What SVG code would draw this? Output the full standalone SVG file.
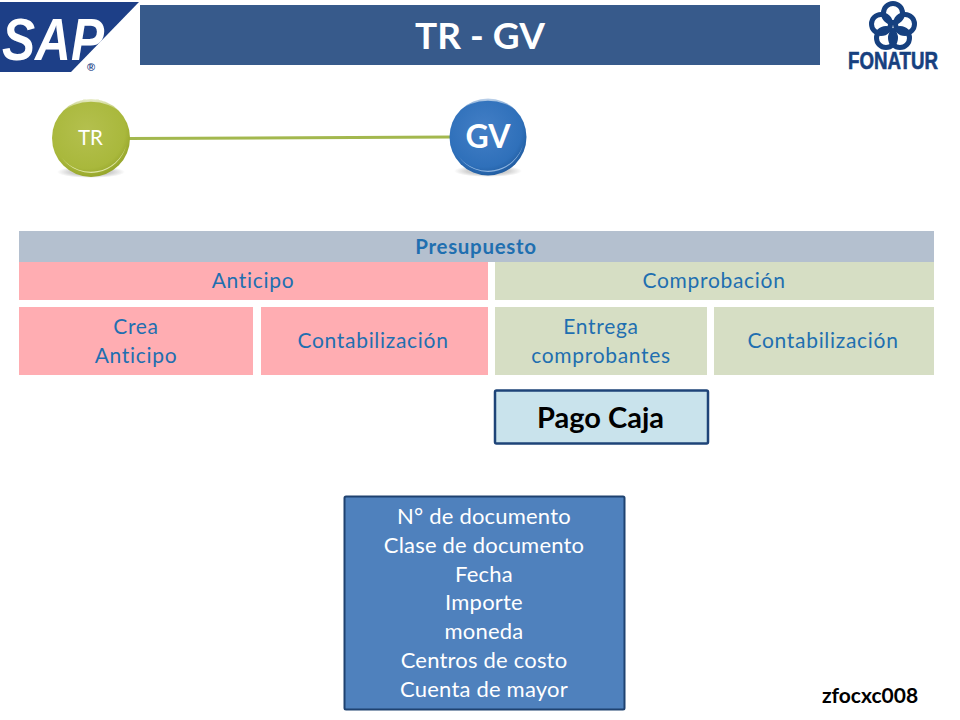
<svg xmlns="http://www.w3.org/2000/svg" width="960" height="720" viewBox="0 0 960 720">
<style>
text{font-family:Lato,"Open Sans","Liberation Sans",sans-serif;text-anchor:middle}
.lbl{font-size:21px;fill:#1f6fb0;letter-spacing:.7px}
.wh{font-size:22px;fill:#fff;letter-spacing:.2px}
.pink{fill:#ffadb2}.sage{fill:#d6dec4}
</style>
<defs>
<radialGradient id="ol" cx="45%" cy="40%" r="65%"><stop offset="0" stop-color="#b4c04e"/><stop offset=".75" stop-color="#a9b83c"/><stop offset="1" stop-color="#8f9f24"/></radialGradient>
<radialGradient id="bl" cx="45%" cy="40%" r="65%"><stop offset="0" stop-color="#437fc6"/><stop offset=".75" stop-color="#2f70ba"/><stop offset="1" stop-color="#1c5698"/></radialGradient>
<radialGradient id="sh" cx="50%" cy="50%" r="50%"><stop offset=".6" stop-color="#888" stop-opacity=".4"/><stop offset="1" stop-color="#888" stop-opacity="0"/></radialGradient>
<linearGradient id="gl" x1="0" y1="0" x2="0" y2="1"><stop offset="0" stop-color="#fff" stop-opacity=".75"/><stop offset="1" stop-color="#fff" stop-opacity="0"/></linearGradient>
</defs>
<rect width="960" height="720" fill="#fff"/>
<g id="logo-sap">
<polygon points="0,2 139,2 71,72 0,72" fill="#1d3f87"/>
<text x="53" y="60" textLength="102" lengthAdjust="spacingAndGlyphs" style="font-family:'Liberation Sans',sans-serif;font-weight:700;font-style:italic;font-size:60px;fill:#fff">SAP</text>
<text x="91" y="71" style="font-family:'Liberation Sans',sans-serif;font-size:11px;font-weight:700;fill:#1d3f87">®</text>
</g>
<g id="title">
<rect x="140" y="5" width="680" height="60" fill="#375a8b"/>
<text x="480" y="49" style="font-size:37px;font-weight:700;fill:#fff">TR - GV</text>
</g>
<g id="logo-fonatur">
<g fill="none" stroke="#16407f" stroke-width="5">
<circle cx="893" cy="13" r="9.500"/><circle cx="905" cy="24" r="9.500"/><circle cx="900" cy="38" r="9.500"/><circle cx="886" cy="38" r="9.500"/><circle cx="881" cy="24" r="9.500"/>
</g>
<text x="893" y="69" textLength="90" lengthAdjust="spacingAndGlyphs" style="font-family:'Liberation Sans',sans-serif;font-weight:700;font-size:23px;fill:#16407f;stroke:#16407f;stroke-width:.6px">FONATUR</text>
</g>
<g id="connectors">
<line x1="128" y1="138.500" x2="452" y2="137" stroke="#a3b84e" stroke-width="3"/>
</g>
<g id="node-tr">
<ellipse cx="91" cy="172" rx="34" ry="6" fill="url(#sh)"/>
<circle cx="91" cy="138" r="39" fill="url(#ol)"/>
<path d="M60 114A39 39 0 0 1 122 114A40 33 0 0 0 60 114Z" fill="url(#gl)"/>
<path d="M62 158A36 36 0 0 0 126 146A37 37 0 0 1 62 158Z" fill="#eef2c0" opacity=".8"/>
<text x="90.500" y="145" style="font-size:20.500px;fill:#fff">TR</text>
</g>
<g id="node-gv">
<ellipse cx="488" cy="171" rx="34" ry="6" fill="url(#sh)"/>
<circle cx="488" cy="137" r="38.500" fill="url(#bl)"/>
<path d="M457 113A38.500 38.500 0 0 1 519 113A40 33 0 0 0 457 113Z" fill="url(#gl)"/>
<path d="M459 157A36 36 0 0 0 523 145A37 37 0 0 1 459 157Z" fill="#a9c8ec" opacity=".8"/>
<text x="488" y="148" style="font-size:32px;font-weight:700;fill:#fff">GV</text>
</g>
<g id="presupuesto">
<rect x="19" y="231" width="915" height="31" fill="#b4c0cf"/>
<text x="476" y="254" class="lbl" style="font-weight:700;font-size:20.500px">Presupuesto</text>
</g>
<g id="anticipo"><rect x="19" y="262" width="469" height="38" class="pink"/><text x="253" y="288" class="lbl">Anticipo</text></g>
<g id="comprobacion"><rect x="495" y="262" width="439" height="38" class="sage"/><text x="714" y="288" class="lbl">Comprobación</text></g>
<g id="crea"><rect x="19" y="307" width="234" height="68" class="pink"/><text x="136" y="334" class="lbl">Crea</text><text x="136" y="363" class="lbl">Anticipo</text></g>
<g id="contab1"><rect x="261" y="307" width="227" height="68" class="pink"/><text x="373" y="348" class="lbl">Contabilización</text></g>
<g id="entrega"><rect x="495" y="307" width="212" height="68" class="sage"/><text x="601" y="334" class="lbl">Entrega</text><text x="601" y="363" class="lbl">comprobantes</text></g>
<g id="contab2"><rect x="714" y="307" width="220" height="68" class="sage"/><text x="823" y="348" class="lbl">Contabilización</text></g>
<g id="pago"><rect x="495" y="390.500" width="213" height="53" rx="1.500" fill="#c9e3ec" stroke="#1e4478" stroke-width="2.500"/><text x="600.500" y="428" style="font-size:29px;font-weight:700;fill:#000">Pago Caja</text></g>
<g id="docbox">
<rect x="344.500" y="496.500" width="280" height="213" rx="1.500" fill="#4f81bd" stroke="#1f4270" stroke-width="2"/>
<text x="484" y="524" class="wh">N° de documento</text>
<text x="484" y="553" class="wh">Clase de documento</text>
<text x="484" y="582" class="wh">Fecha</text>
<text x="484" y="610" class="wh">Importe</text>
<text x="484" y="639" class="wh">moneda</text>
<text x="484" y="668" class="wh">Centros de costo</text>
<text x="484" y="697" class="wh">Cuenta de mayor</text>
</g>
<text id="code" x="870" y="703" style="font-size:21px;font-weight:700;fill:#000">zfocxc008</text>
</svg>
